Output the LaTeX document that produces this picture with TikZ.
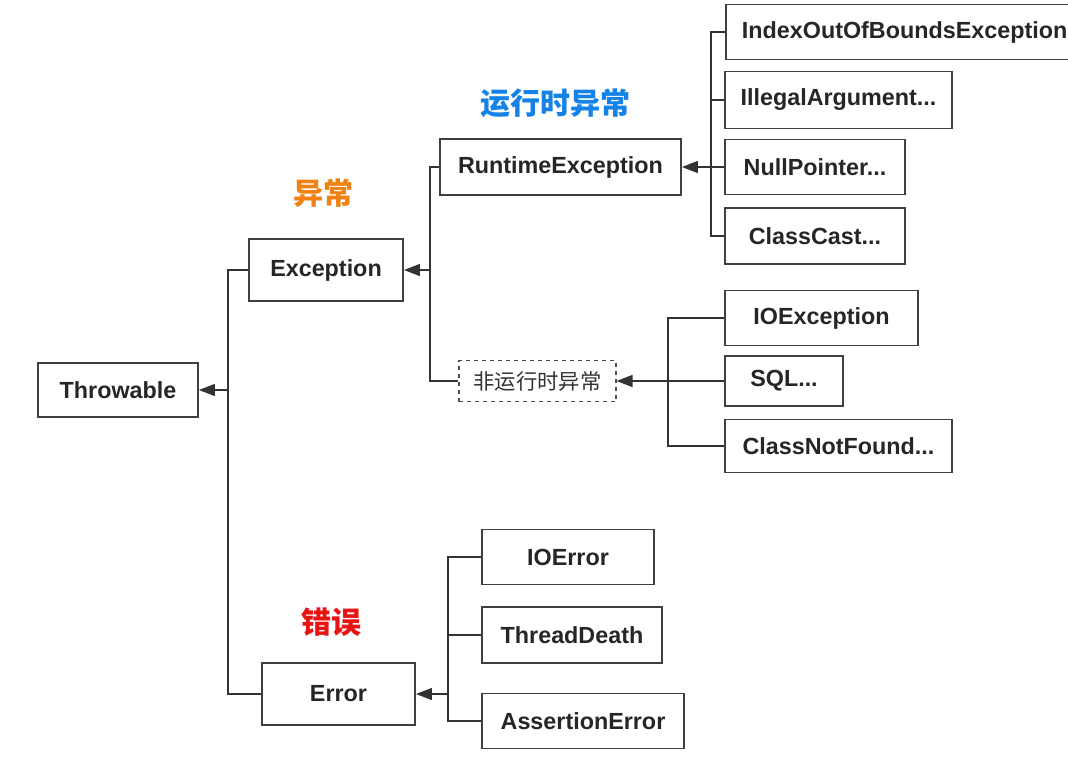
\documentclass[tikz,border=0pt]{standalone}
\usepackage{fontspec}
\setmainfont{Liberation Sans}
\newfontfamily\cjk{Noto Sans CJK SC}
\usetikzlibrary{arrows.meta}
\tikzset{every picture/.style={line width=0.75pt}}
\tikzset{
  cls/.style={draw=black!75,line width=1.4pt,fill=white,inner sep=0pt,font=\bfseries\fontsize{17.5}{20}\selectfont,text=black!85},
  abs/.style={draw=black!70,dashed,line width=0.8pt,fill=white,inner sep=0pt,font=\cjk\fontsize{16}{18}\selectfont,text=black!80},
  tag/.style={font=\cjk\bfseries\fontsize{22.5}{26}\selectfont},
  link/.style={draw=black!80,line width=1.1pt},
  inh/.style={link,-{Triangle[length=12pt,width=9pt]}}
}
\begin{document}
\begin{tikzpicture}[x=0.75pt,y=0.75pt,yscale=-1,xscale=1]
\useasboundingbox (0,0) rectangle (1068,761);
% classes
\node[cls,minimum width=120pt,minimum height=40.5pt] (thr) at (118,390) {Throwable};
\node[cls,minimum width=115.5pt,minimum height=46.5pt] (exc) at (326,270) {Exception};
\node[cls,minimum width=114.75pt,minimum height=46.5pt] (err) at (338.5,694) {Error};
\node[cls,minimum width=180.75pt,minimum height=42pt] (rte) at (560.5,167) {RuntimeException};
\node[abs,minimum width=117.75pt,minimum height=30.75pt] (chk) at (537.5,381) {非运行时异常};
% runtime subclasses
\node[cls,anchor=west,inner xsep=12pt,minimum height=41.25pt] (idx) at (725,32) {IndexOutOfBoundsException};
\node[cls,minimum width=170.25pt,minimum height=42.75pt] (ill) at (838.5,100) {IllegalArgument...};
\node[cls,minimum width=135pt,minimum height=41.25pt] (npe) at (815,167) {NullPointer...};
\node[cls,minimum width=135pt,minimum height=42pt] (cce) at (815,236) {ClassCast...};
% checked subclasses
\node[cls,minimum width=144.75pt,minimum height=41.25pt] (ioe) at (821.5,318) {IOException};
\node[cls,minimum width=88.5pt,minimum height=37.5pt] (sql) at (784,381) {SQL...};
\node[cls,minimum width=170.25pt,minimum height=39.75pt] (cnf) at (838.5,446) {ClassNotFound...};
% errors
\node[cls,minimum width=129pt,minimum height=41.25pt] (ioerr) at (568,557) {IOError};
\node[cls,minimum width=135pt,minimum height=42pt] (thd) at (572,635) {ThreadDeath};
\node[cls,minimum width=151.5pt,minimum height=41.25pt] (ase) at (583,721) {AssertionError};
% tags
\node[tag,text={rgb,255:red,20;green,130;blue,230}] (tRt) at (555,103) {运行时异常};
\node[tag,text={rgb,255:red,240;green,130;blue,20}] (tExc) at (323,193) {异常};
\node[tag,text={rgb,255:red,230;green,20;blue,20}] (tErr) at (331,622) {错误};
% junctions
\coordinate (jThr) at (228,390);
\coordinate (jExc) at (430,270);
\coordinate (jErr) at (448,694);
\coordinate (jRte) at (711,167);
\coordinate (jChk) at (668,381);
% connectors
\draw[link] (exc.west) -| (jThr) |- (err.west);
\draw[inh] (jThr) -- (thr.east);
\draw[link] (rte.west) -| (jExc) |- (chk.west);
\draw[inh] (jExc) -- (exc.east);
\draw[link] (idx.west) -| (jRte) |- (cce.west);
\draw[link] (ill.west) -| (jRte);
\draw[inh] (npe.west) -- (rte.east);
\draw[link] (ioe.west) -| (jChk) |- (cnf.west);
\draw[inh] (sql.west) -- (chk.east);
\draw[link] (ioerr.west) -| (jErr) |- (ase.west);
\draw[link] (thd.west) -| (jErr);
\draw[inh] (jErr) -- (err.east);
\end{tikzpicture}
\end{document}
